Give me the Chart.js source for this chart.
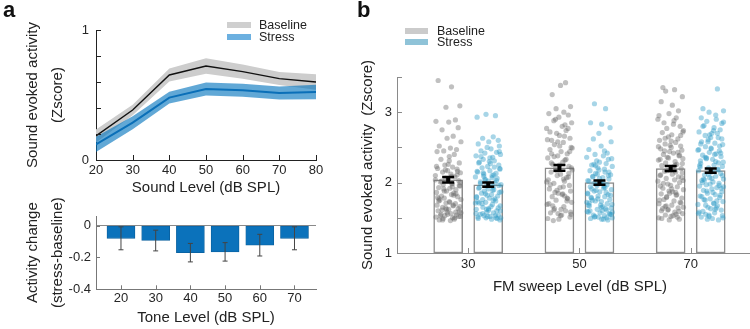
<!DOCTYPE html>
<html><head><meta charset="utf-8">
<script src="https://cdn.jsdelivr.net/npm/chart.js@4"></script>
<style>
html,body{margin:0;padding:0;background:#fff;}
#wrap{position:relative;width:750px;height:329px;overflow:hidden;font-family:'Liberation Sans',Arial,sans-serif;color:#222;}
canvas{position:absolute;}
.pl{position:absolute;font-weight:bold;font-size:22px;line-height:22px;color:#111;}
.lg{position:absolute;font-size:12.5px;line-height:12px;white-space:nowrap;color:#222;}
.sw{position:absolute;height:6px;}
</style></head>
<body><div id="wrap">
<canvas id="cA" style="left:0px;top:0px;width:340px;height:200px" width="340" height="200"></canvas>
<canvas id="cB" style="left:0px;top:180px;width:340px;height:149px" width="340" height="149"></canvas>
<canvas id="cC" style="left:340px;top:0px;width:427px;height:329px" width="427" height="329"></canvas>
<div class="pl" style="left:3px;top:-1px">a</div>
<div class="pl" style="left:357px;top:-1px">b</div>
<div class="sw" style="left:227px;top:22px;width:24px;background:#cfcfcf"></div>
<div class="lg" style="left:259px;top:19px">Baseline</div>
<div class="sw" style="left:227px;top:34px;width:24px;background:#6cb0e0"></div>
<div class="lg" style="left:259px;top:31px">Stress</div>
<div class="sw" style="left:405px;top:28px;width:23px;background:#cbcbcb"></div>
<div class="lg" style="left:437px;top:25px">Baseline</div>
<div class="sw" style="left:405px;top:39px;width:23px;background:#8fc3d8"></div>
<div class="lg" style="left:437px;top:36px">Stress</div>
</div>
<script>
// ---------- Panel a (top): sound evoked activity vs level ----------
const levelsA = [20, 30, 40, 50, 60, 70, 80];
const baseMean = [0.185, 0.385, 0.654, 0.723, 0.68, 0.626, 0.60];
const baseErr = [0.05, 0.04, 0.05, 0.06, 0.055, 0.05, 0.06];
const stressMean = [0.12, 0.287, 0.48, 0.546, 0.536, 0.515, 0.523];
const stressErr = [0.058, 0.05, 0.045, 0.05, 0.05, 0.05, 0.055];
const yTicksA = [0, 0.2, 0.4, 0.6, 0.8, 1];
const yLabelsA = ['0', '', '', '', '', '1'];
const xTicksA = [20, 30, 40, 50, 60, 70, 80];

// ---------- Panel a (bottom): activity change ----------
const toneLevels = [20, 30, 40, 50, 60, 70];
const changeMean = [-0.08, -0.094, -0.17, -0.165, -0.123, -0.08];
const changeErr = [0.072, 0.065, 0.058, 0.058, 0.068, 0.072];
const yTicksB = [-0.4, -0.2, 0];

// ---------- Panel b: FM sweep ----------
const fmLevels = [30, 50, 70];
const fmBaseMean = [2.04, 2.21, 2.20];
const fmBaseErr = [0.04, 0.04, 0.035];
const fmStressMean = [1.97, 2.00, 2.17];
const fmStressErr = [0.03, 0.03, 0.03];
const yTicksC = [1, 1.5, 2, 2.5, 3, 3.5];
const yLabelsC = ['1', '', '2', '', '3', ''];
const jitter = [-1.8,0.6,2.1,-0.4,1.3,-2.2,0.1,1.8,-1.1,0.9,-0.2,2.3,-1.6,0.4,1.5,-0.8,-2.0,1.1,0.2,-1.3,2.0,-0.6,0.8,-1.9,1.6,-0.1,-1.0,2.2,0.5,-2.3,1.2,-0.5,0.0,1.9,-1.4,0.7,-0.9,2.1,-1.7,0.3,1.4,-0.3,-2.1,1.0,0.6,-1.2,1.7,-0.7,2.3,-1.5,0.2,-0.4,1.3,-2.0,0.9,-1.0,1.8,0.1,-1.8,2.0,-0.2,0.5,-1.3,1.5,-0.6,2.2,-2.2,0.8,-0.9,1.1,-1.6,0.4,1.9,-0.1,-1.1,2.1,0.3,-1.9,1.4,-0.8,0.7,-2.3,1.6,-0.5,0.0,1.2,-1.4,2.3,-0.3,0.9,-1.7,1.0,-0.7,2.0,-1.2,0.6,1.7,-2.1,0.2,-1.0,1.35,-0.45,-1.65,0.75,2.15,-0.95,0.05,-2.15,1.55,-0.25,0.95,-1.45,1.85,-0.75,0.35,-1.85,2.25];
const base30 = [3.45,3.36,3.09,3.07,2.89,2.87,2.86,2.78,2.75,2.66,2.63,2.58,2.52,2.49,2.47,2.45,2.44,2.40,2.37,2.33,2.28,2.25,2.22,2.20,2.19,2.17,2.15,2.14,2.12,2.10,2.08,2.06,2.05,2.03,2.01,1.99,1.97,1.95,1.93,1.92,1.90,1.88,1.86,1.85,1.83,1.81,1.80,1.78,1.76,1.75,1.73,1.71,1.70,1.68,1.67,1.65,1.63,1.62,1.60,1.59,1.58,1.56,1.55,1.54,1.53,1.52,1.51,1.50,1.49,1.48,1.47,1.46,1.52,1.55,1.61,1.66,1.72,1.79,1.84,1.91,1.98,2.04,2.11,2.18,2.26,1.50,1.53,1.57,1.62,1.68,1.74,1.82,1.88,1.96,2.02,2.09,2.16,2.23,2.31,1.47,1.58,1.64,1.77,1.94,2.00];
const stress30 = [2.97,2.95,2.93,2.65,2.63,2.60,2.58,2.55,2.52,2.50,2.48,2.45,2.43,2.42,2.40,2.38,2.36,2.33,2.31,2.29,2.27,2.25,2.23,2.21,2.19,2.17,2.15,2.13,2.12,2.10,2.08,2.06,2.04,2.02,2.00,1.99,1.97,1.95,1.94,1.92,1.90,1.88,1.86,1.85,1.83,1.81,1.79,1.78,1.76,1.74,1.72,1.71,1.69,1.67,1.65,1.63,1.62,1.60,1.58,1.57,1.55,1.54,1.53,1.52,1.51,1.50,1.49,1.48,1.47,1.50,1.53,1.56,1.61,1.64,1.70,1.75,1.82,1.87,1.93,1.98,2.03,2.09,2.16,2.22,2.30,2.37,2.44,2.05,1.89,1.73,1.49,1.52,1.56,1.60,1.66,1.71,1.77,1.84,1.91,1.96,2.01,2.07,2.14,2.20,2.28,2.35,1.50,1.62,1.80,2.11];
const base50 = [3.42,3.38,3.25,3.08,3.05,3.00,2.98,2.96,2.93,2.88,2.85,2.80,2.77,2.74,2.70,2.67,2.63,2.60,2.57,2.54,2.50,2.47,2.44,2.41,2.38,2.35,2.32,2.29,2.26,2.23,2.20,2.18,2.15,2.12,2.10,2.07,2.04,2.02,1.99,1.96,1.93,1.91,1.88,1.85,1.83,1.80,1.77,1.75,1.72,1.69,1.66,1.63,1.60,1.57,1.54,1.51,1.48,1.46,1.55,1.62,1.70,1.78,1.86,1.94,2.01,2.08,2.17,2.25,2.33,2.41,2.49,2.58,2.66,2.72,2.82,2.90,1.58,1.67,1.84,2.13,1.49,1.53,1.61,1.74,1.89,1.97,2.05,2.21,2.37,2.52,2.61,2.77,1.56,1.81,2.28,2.44];
const stress50 = [3.12,3.05,2.85,2.83,2.78,2.70,2.62,2.58,2.52,2.47,2.42,2.40,2.38,2.36,2.33,2.31,2.29,2.27,2.25,2.23,2.21,2.19,2.17,2.15,2.13,2.11,2.09,2.07,2.05,2.03,2.01,1.99,1.97,1.96,1.94,1.92,1.90,1.88,1.87,1.85,1.83,1.81,1.80,1.78,1.76,1.74,1.73,1.71,1.69,1.67,1.66,1.64,1.62,1.61,1.59,1.57,1.56,1.54,1.53,1.51,1.50,1.49,1.48,1.47,1.52,1.58,1.63,1.68,1.75,1.82,1.89,1.95,2.02,2.10,2.18,2.26,2.34,1.60,1.72,1.86,1.98,2.06,1.55,1.91,1.48,1.51,1.55,1.60,1.65,1.70,1.77,1.84,1.93,2.00,2.08,2.15,2.24,1.58,1.79,1.99,2.12,1.50,1.68,2.45];
const base70 = [3.35,3.32,3.30,3.22,3.15,3.10,3.02,2.98,2.95,2.92,2.88,2.85,2.80,2.77,2.74,2.71,2.68,2.65,2.62,2.60,2.57,2.55,2.52,2.50,2.48,2.46,2.44,2.42,2.40,2.38,2.36,2.34,2.32,2.30,2.28,2.26,2.24,2.22,2.20,2.18,2.16,2.14,2.12,2.10,2.08,2.06,2.04,2.02,2.00,1.98,1.96,1.94,1.92,1.90,1.88,1.86,1.84,1.82,1.80,1.78,1.76,1.74,1.72,1.70,1.68,1.66,1.64,1.62,1.60,1.58,1.56,1.54,1.52,1.50,1.48,1.47,1.55,1.63,1.71,1.79,1.87,1.95,2.03,2.11,2.19,2.27,2.35,2.43,2.51,2.59,2.67,2.45,2.15,1.85,1.65,1.49,1.53,1.59,1.67,1.75,1.83,1.91,1.99,2.07,2.17,2.25,2.33,2.39,2.53,2.63,2.72,2.83,2.90,1.51,1.61];
const stress70 = [3.33,3.05,3.02,3.00,2.96,2.92,2.90,2.87,2.84,2.81,2.78,2.75,2.72,2.70,2.67,2.64,2.61,2.58,2.56,2.54,2.51,2.49,2.47,2.45,2.43,2.41,2.39,2.37,2.35,2.33,2.31,2.29,2.27,2.25,2.23,2.21,2.19,2.17,2.15,2.13,2.11,2.09,2.07,2.05,2.03,2.01,1.99,1.97,1.95,1.93,1.91,1.89,1.87,1.85,1.83,1.81,1.79,1.77,1.75,1.73,1.71,1.69,1.67,1.65,1.63,1.61,1.59,1.57,1.55,1.53,1.51,1.49,1.47,1.52,1.58,1.64,1.70,1.76,1.82,1.88,1.94,2.00,2.06,2.12,2.18,2.24,2.30,2.36,2.42,2.48,2.55,2.62,2.68,2.74,2.05,1.96,1.48,1.50,1.56,1.62,1.68,1.74,1.80,1.86,1.92,1.98,2.04,2.10,2.16,2.22,2.28,2.34,2.40,2.46,2.52,2.58,2.64,2.70,2.80,2.86,1.54];

const FONT = "'Liberation Sans', Arial, sans-serif";
Chart.defaults.font.family = FONT;
Chart.defaults.color = '#262626';
Chart.defaults.animation = false;

const inTicks = {
  id: 'inTicks',
  afterDatasetsDraw(chart, args, o) {
    if (!o || !o.len) return;
    const ctx = chart.ctx, a = chart.chartArea, xs = chart.scales.x, ys = chart.scales.y;
    ctx.save(); ctx.strokeStyle = o.color; ctx.lineWidth = 1; ctx.beginPath();
    (o.y || []).forEach(v => { const p = Math.round(ys.getPixelForValue(v)) + 0.5; ctx.moveTo(a.left, p); ctx.lineTo(a.left + o.len, p); });
    (o.x || []).forEach(v => { const p = Math.round(xs.getPixelForValue(v)) + 0.5; ctx.moveTo(p, a.bottom); ctx.lineTo(p, a.bottom - o.len); });
    ctx.stroke(); ctx.restore();
  }
};
const errBars = {
  id: 'errBars',
  afterDatasetsDraw(chart, args, o) {
    if (!o || !o.items) return;
    const ctx = chart.ctx, xs = chart.scales.x, ys = chart.scales.y;
    ctx.save(); ctx.strokeStyle = o.color;
    o.items.forEach(it => {
      const px = xs.getPixelForValue(it.x);
      const t = ys.getPixelForValue(it.y + it.e), b = ys.getPixelForValue(it.y - it.e);
      ctx.lineWidth = o.width; ctx.beginPath(); ctx.moveTo(px, t); ctx.lineTo(px, b); ctx.stroke();
      ctx.lineWidth = o.capWidth; ctx.beginPath();
      ctx.moveTo(px - o.cap, t); ctx.lineTo(px + o.cap, t);
      ctx.moveTo(px - o.cap, b); ctx.lineTo(px + o.cap, b); ctx.stroke();
    });
    ctx.restore();
  }
};
const setTicks = vals => scale => { scale.ticks = vals.map(v => ({ value: v })); };
const fixW = w => s => { s.width = w; s.paddingTop = 0; s.paddingBottom = 0; };
const fixH = h => s => { s.height = h; s.paddingLeft = 0; s.paddingRight = 0; };

// ---------- Chart A top ----------
const pts = arr => levelsA.map((l, i) => ({ x: l, y: arr[i] }));
new Chart(document.getElementById('cA'), {
  type: 'line',
  data: { datasets: [
    { data: pts(baseMean.map((m, i) => m + baseErr[i])), fill: '+1', backgroundColor: '#cdcdcd', borderWidth: 0, pointRadius: 0, order: 6 },
    { data: pts(baseMean.map((m, i) => m - baseErr[i])), fill: false, borderWidth: 0, pointRadius: 0, order: 5 },
    { data: pts(stressMean.map((m, i) => m + stressErr[i])), fill: '+1', backgroundColor: 'rgba(0,114,189,0.62)', borderWidth: 0, pointRadius: 0, order: 4 },
    { data: pts(stressMean.map((m, i) => m - stressErr[i])), fill: false, borderWidth: 0, pointRadius: 0, order: 3 },
    { data: pts(stressMean), borderColor: '#0a6fb8', borderWidth: 2, pointRadius: 0, fill: false, order: 2 },
    { data: pts(baseMean), borderColor: '#111', borderWidth: 1.4, pointRadius: 0, fill: false, order: 1 }
  ] },
  options: {
    responsive: false, events: [],
    layout: { padding: { top: 30, right: 24, left: 0, bottom: 0 } },
    plugins: { legend: { display: false }, tooltip: { enabled: false },
      inTicks: { len: 5, color: '#222', y: yTicksA, x: xTicksA } },
    scales: {
      x: { type: 'linear', offset: false, min: 20, max: 80, afterBuildTicks: setTicks(xTicksA), afterFit: fixH(40),
        grid: { display: false, drawTicks: false }, border: { display: true, color: '#222', width: 1 },
        ticks: { padding: 3, font: { size: 13 }, autoSkip: false, maxRotation: 0 },
        title: { display: true, text: 'Sound Level (dB SPL)', font: { size: 15 }, padding: { top: 0, bottom: 3 }, color: '#222' } },
      y: { min: 0, max: 1, afterBuildTicks: setTicks(yTicksA), afterFit: fixW(96),
        grid: { display: false, drawTicks: false }, border: { display: true, color: '#222', width: 1 },
        ticks: { padding: 7, font: { size: 13 }, autoSkip: false, callback: (v, i) => yLabelsA[i] },
        title: { display: true, text: ['Sound evoked activity', '(Zscore)'], font: { size: 15, lineHeight: 1.67 }, padding: { top: 20.5, bottom: 0 }, color: '#222' } }
    }
  },
  plugins: [inTicks]
});

// ---------- Chart A bottom ----------
new Chart(document.getElementById('cB'), {
  type: 'bar',
  data: { datasets: [{ data: toneLevels.map((l, i) => ({ x: l, y: changeMean[i] })), backgroundColor: '#0b72bb', borderColor: '#0a5f9c', borderWidth: 0.8, borderSkipped: false, barThickness: 28 }] },
  options: {
    responsive: false, events: [],
    layout: { padding: { top: 36, right: 24, left: 0, bottom: 0 } },
    plugins: { legend: { display: false }, tooltip: { enabled: false },
      inTicks: { len: 4, color: '#777', y: yTicksB, x: toneLevels },
      errBars: { color: '#444', width: 1, capWidth: 1, cap: 2.5, items: toneLevels.map((l, i) => ({ x: l, y: changeMean[i], e: changeErr[i] })) } },
    scales: {
      x: { type: 'linear', offset: false, min: 12.8, max: 76.2, afterBuildTicks: setTicks(toneLevels), afterFit: fixH(39.7),
        grid: { display: false, drawTicks: false, offset: false }, border: { display: true, color: '#777', width: 1 },
        ticks: { padding: 1, font: { size: 13 }, autoSkip: false, maxRotation: 0 },
        title: { display: true, text: 'Tone Level (dB SPL)', font: { size: 15 }, padding: { top: 0, bottom: 2 }, color: '#222' } },
      y: { offset: false, min: -0.4, max: 0.06, afterBuildTicks: setTicks(yTicksB), afterFit: fixW(96),
        grid: { display: true, drawTicks: false, color: c => (c.tick && c.tick.value === 0) ? '#8a8a8a' : 'rgba(0,0,0,0)', lineWidth: 1 },
        border: { display: true, color: '#777', width: 1 },
        ticks: { padding: 5, font: { size: 13 }, autoSkip: false, callback: v => (v === 0 ? '0' : String(v)) },
        title: { display: true, text: ['Activity change', '(stress-baseline)'], font: { size: 15, lineHeight: 1.67 }, padding: { top: 20.5, bottom: 0 }, color: '#222' } }
    }
  },
  plugins: [inTicks, errBars]
});

// ---------- Chart b ----------
const OFF = 3.6;
const basePts = [base30, base50, base70];
const stressPts = [stress30, stress50, stress70];
const cloud = (groups, sign, k0) => {
  const out = [];
  groups.forEach((vals, g) => {
    const k = k0 + g;
    vals.forEach((v, i) => out.push({ x: fmLevels[g] + sign * OFF + jitter[(i + 17 * k) % jitter.length], y: v }));
  });
  return out;
};
new Chart(document.getElementById('cC'), {
  type: 'bar',
  data: { datasets: [
    { type: 'scatter', data: cloud(basePts, -1, 0), backgroundColor: 'rgba(105,105,105,0.42)', borderWidth: 0, pointRadius: 2.6, order: 1 },
    { type: 'scatter', data: cloud(stressPts, 1, 3), backgroundColor: 'rgba(45,155,198,0.42)', borderWidth: 0, pointRadius: 2.6, order: 1 },
    { type: 'bar', data: fmLevels.map((l, i) => ({ x: l - OFF, y: fmBaseMean[i] })), base: 1, grouped: false, barThickness: 29, backgroundColor: '#fff', borderColor: '#8c8c8c', borderWidth: 1.5, borderSkipped: false, order: 3 },
    { type: 'bar', data: fmLevels.map((l, i) => ({ x: l + OFF, y: fmStressMean[i] })), base: 1, grouped: false, barThickness: 29, backgroundColor: '#fff', borderColor: '#8c8c8c', borderWidth: 1.5, borderSkipped: false, order: 3 }
  ] },
  options: {
    responsive: false, events: [],
    layout: { padding: { top: 77, right: 0, left: 0, bottom: 0 } },
    plugins: { legend: { display: false }, tooltip: { enabled: false },
      inTicks: { len: 5, color: '#8a8a8a', y: yTicksC, x: fmLevels },
      errBars: { color: '#000', width: 4, capWidth: 2.5, cap: 6,
        items: fmLevels.map((l, i) => ({ x: l - OFF, y: fmBaseMean[i], e: fmBaseErr[i] }))
          .concat(fmLevels.map((l, i) => ({ x: l + OFF, y: fmStressMean[i], e: fmStressErr[i] }))) } },
    scales: {
      x: { type: 'linear', offset: false, min: 17.2, max: 83.0, afterBuildTicks: setTicks(fmLevels), afterFit: fixH(76),
        grid: { display: false, drawTicks: false, offset: false }, border: { display: true, color: '#8a8a8a', width: 1 },
        ticks: { padding: 4, font: { size: 13 }, autoSkip: false, maxRotation: 0 },
        title: { display: true, text: 'FM sweep Level (dB SPL)', font: { size: 15 }, padding: { top: 0, bottom: 33 }, color: '#222' } },
      y: { offset: false, min: 1, max: 3.5, afterBuildTicks: setTicks(yTicksC), afterFit: fixW(57),
        grid: { display: false, drawTicks: false }, border: { display: true, color: '#8a8a8a', width: 1 },
        ticks: { padding: 5, font: { size: 13 }, autoSkip: false, callback: (v, i) => yLabelsC[i] },
        title: { display: true, text: 'Sound evoked activity  (Zscore)', font: { size: 15 }, padding: { top: 19, bottom: 0 }, color: '#222' } }
    }
  },
  plugins: [inTicks, errBars]
});
</script>
</body></html>
